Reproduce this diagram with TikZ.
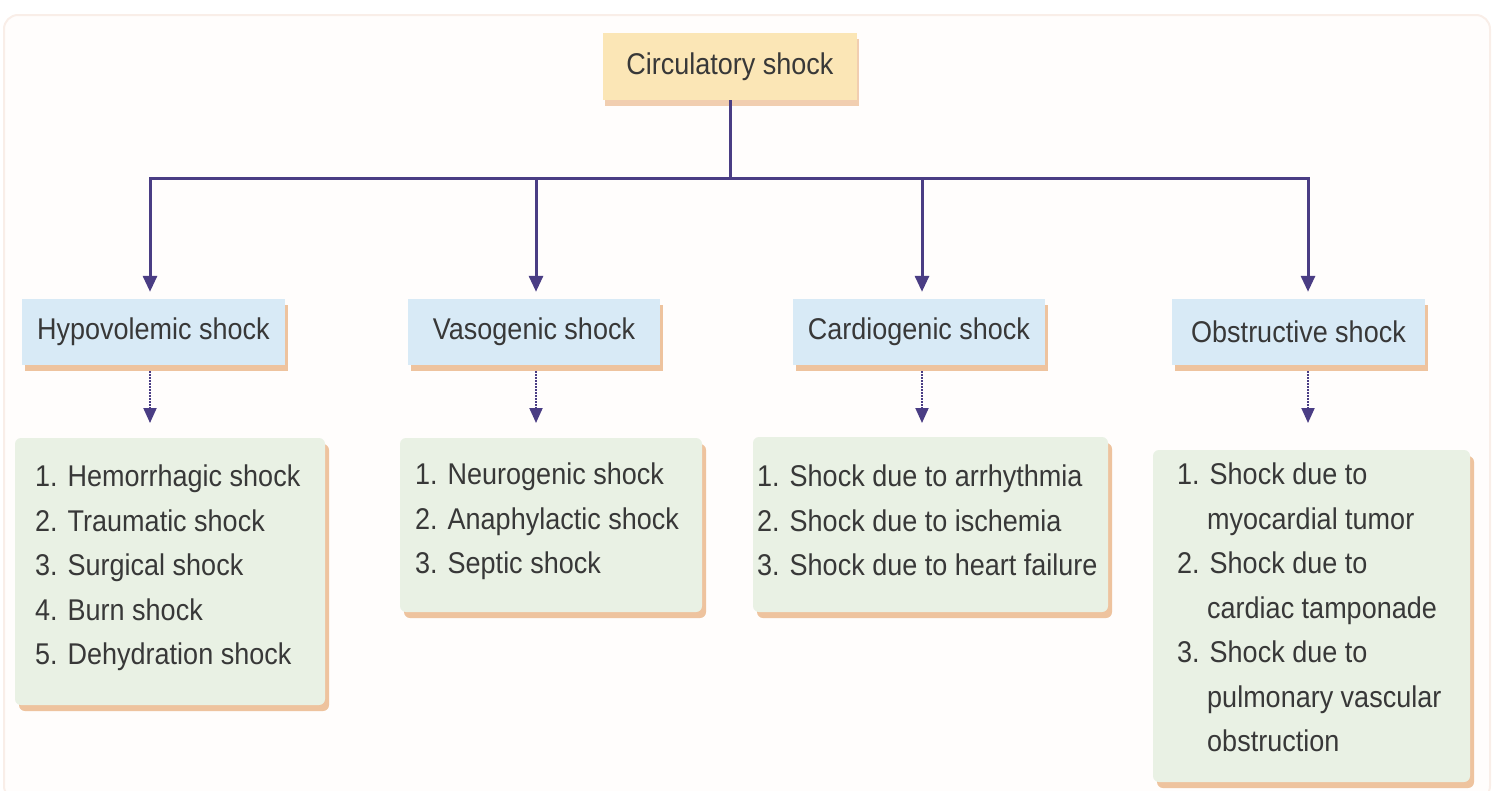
\documentclass[tikz,border=0pt]{standalone}
\usepackage{fontspec}
\setmainfont{Liberation Sans}[FakeStretch=0.9]
\usetikzlibrary{arrows.meta,shadows}
\definecolor{linec}{HTML}{4A3D84}
\definecolor{textc}{HTML}{383838}
\definecolor{topfill}{HTML}{FBE6B6}
\definecolor{bluefill}{HTML}{D8EAF6}
\definecolor{greenfill}{HTML}{E9F1E4}
\definecolor{shd}{HTML}{EEC39E}
\definecolor{panelfill}{HTML}{FFFDFC}
\definecolor{paneldraw}{HTML}{F9EEE8}
\tikzset{
  lbl/.style={font=\fontsize{30}{44.5}\selectfont, text=textc},
  topbox/.style={lbl, fill=topfill, inner sep=0pt,
    drop shadow={shadow xshift=2pt, shadow yshift=-6pt, fill=shd, opacity=0.8}},
  typebox/.style={lbl, fill=bluefill, inner sep=0pt, minimum height=66pt,
    drop shadow={shadow xshift=3pt, shadow yshift=-6pt, fill=shd, opacity=1}},
  listbox/.style={fill=greenfill, inner sep=0pt, rounded corners=6pt,
    drop shadow={shadow xshift=4pt, shadow yshift=-6pt, fill=shd, opacity=1}},
  listtext/.style={lbl, align=left, anchor=north west, inner sep=0pt},
  conn/.style={draw=linec, line width=3pt},
  arr/.style={conn, -{Triangle[width=14pt,length=16pt]}},
  darr/.style={draw=linec, line width=2pt, densely dotted, -{Triangle[width=13pt,length=15pt]}},
}
\begin{document}
\begin{tikzpicture}[x=1pt,y=-1pt]
\useasboundingbox (0,0) rectangle (1496,790);
\draw[fill=panelfill, draw=paneldraw, line width=2pt, rounded corners=14pt] (4,15) rectangle (1490,800);

% top
\node[topbox, minimum width=254pt, minimum height=67pt] (circ) at (730,66.5) {Circulatory shock};

% second row
\node[typebox, minimum width=263pt] (hypo) at (153.5,332) {Hypovolemic shock};
\node[typebox, minimum width=252pt] (vaso) at (534,332) {Vasogenic shock};
\node[typebox, minimum width=252pt] (card) at (919,332) {Cardiogenic shock};
\node[typebox, minimum width=253pt] (obst) at (1298.5,332) {Obstructive shock};

% hub coordinates
\coordinate (hub) at (730,178);
\coordinate (a1) at (150,178);
\coordinate (a2) at (536,178);
\coordinate (a3) at (922,178);
\coordinate (a4) at (1308,178);

\draw[conn] (circ.south) -- (hub);
\draw[conn, line cap=rect] (a1) -- (a4);
\draw[arr, shorten >=7pt] (a1) -- (a1 |- hypo.north);
\draw[arr, shorten >=7pt] (a2) -- (a2 |- vaso.north);
\draw[arr, shorten >=7pt] (a3) -- (a3 |- card.north);
\draw[arr, shorten >=7pt] (a4) -- (a4 |- obst.north);

% list boxes
\node[listbox, minimum width=310pt, minimum height=267pt] (l1) at (170,571.5) {};
\node[listbox, minimum width=302pt, minimum height=174pt] (l2) at (551,525) {};
\node[listbox, minimum width=355pt, minimum height=175pt] (l3) at (930.5,524.5) {};
\node[listbox, minimum width=317pt, minimum height=332pt] (l4) at (1311.5,616) {};

\node[listtext] (t1) at (35,465) {1. Hemorrhagic shock\\2. Traumatic shock\\3. Surgical shock\\4. Burn shock\\5. Dehydration shock};
\node[listtext] (t2) at (415,463) {1. Neurogenic shock\\2. Anaphylactic shock\\3. Septic shock};
\node[listtext] (t3) at (757,465) {1. Shock due to arrhythmia\\2. Shock due to ischemia\\3. Shock due to heart failure};
\node[listtext] (t4) at (1177,463) {1. Shock due to\\\hphantom{1.\ }myocardial tumor\\2. Shock due to\\\hphantom{2.\ }cardiac tamponade\\3. Shock due to\\\hphantom{3.\ }pulmonary vascular\\\hphantom{3.\ }obstruction};

% dotted arrows
\coordinate (d1) at (150,423);
\coordinate (d2) at (536,423);
\coordinate (d3) at (922,423);
\coordinate (d4) at (1308,423);
\draw[darr, shorten <=6pt] (hypo.south -| d1) -- (d1);
\draw[darr, shorten <=6pt] (vaso.south -| d2) -- (d2);
\draw[darr, shorten <=6pt] (card.south -| d3) -- (d3);
\draw[darr, shorten <=6pt] (obst.south -| d4) -- (d4);
\end{tikzpicture}
\end{document}
